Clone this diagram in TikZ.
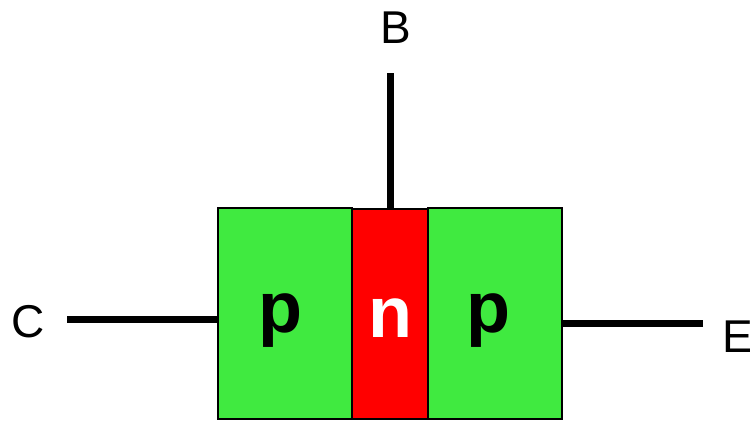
\documentclass[tikz,border=0pt]{standalone}
\usepackage{fontspec}
\setmainfont{Liberation Sans}
\definecolor{pgreen}{RGB}{64,234,64}
\definecolor{nred}{RGB}{255,0,0}
\begin{document}
\begin{tikzpicture}[x=1pt,y=-1pt,
  region/.style={draw=black,line width=1.5pt,inner sep=0pt,outer sep=0pt},
  lead/.style={line width=7pt},
  lbl/.style={font=\fontsize{46}{50}\selectfont,inner sep=0pt,anchor=base},
  dop/.style={font=\fontsize{72}{80}\selectfont\bfseries,inner sep=0pt,anchor=base}]
\useasboundingbox (0,0) rectangle (750,423);
\node[region,fill=pgreen,minimum width=134pt,minimum height=211pt,anchor=north west] (p1) at (218,208) {};
\node[region,fill=pgreen,minimum width=134pt,minimum height=211pt,anchor=north west] (p2) at (428,208) {};
\node[region,fill=nred,minimum width=76pt,minimum height=210pt,anchor=north west] (n) at (352,209) {};
\node[dop] at (280,332) {p};
\node[dop,white] at (390,337) {n};
\node[dop] at (488,332) {p};
\coordinate (cb) at (390,73);
\coordinate (cc) at (67,319);
\coordinate (ce) at (703,323);
\draw[lead] (cb) -- (cb |- n.north);
\draw[lead] (cc) -- (cc -| p1.west);
\draw[lead] (ce) -- (ce -| p2.east);
\node[lbl] (B) at (395.5,43) {B};
\node[lbl] (C) at (28,337) {C};
\node[lbl] (E) at (738,352) {E};
\end{tikzpicture}
\end{document}
